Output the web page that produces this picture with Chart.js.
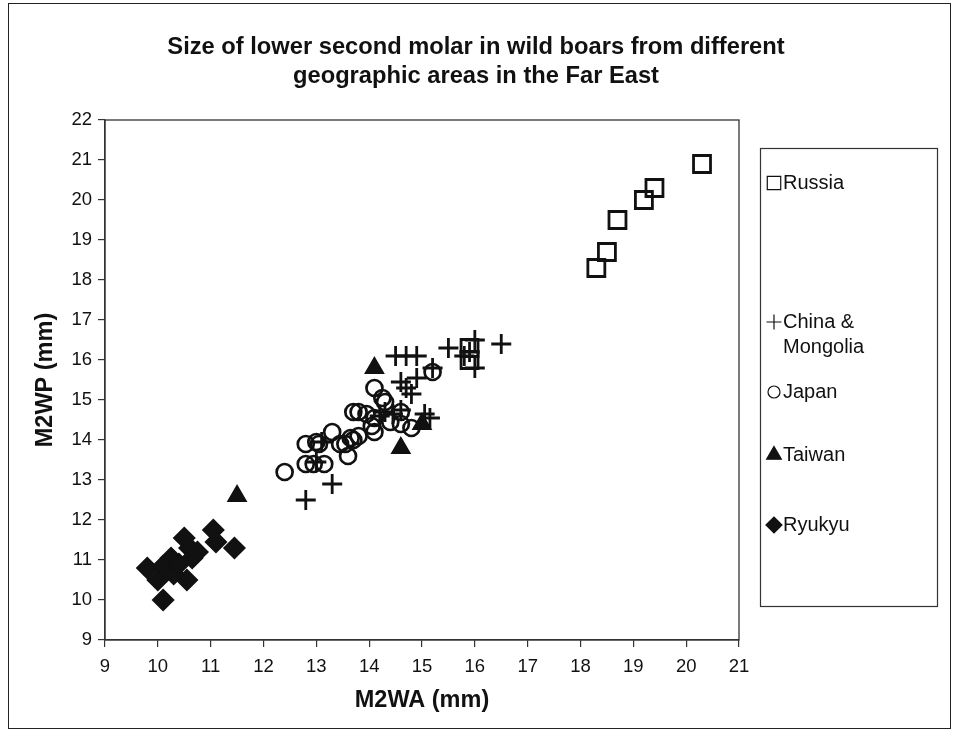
<!DOCTYPE html>
<html>
<head>
<meta charset="utf-8">
<script src="https://cdn.jsdelivr.net/npm/chart.js@4/dist/chart.umd.min.js"></script>
<style>
  html, body { margin: 0; padding: 0; background: #fff; }
  #wrap { width: 954px; height: 734px; position: relative; }
</style>
</head>
<body>
<div id="wrap"><canvas id="scatter" width="954" height="734"></canvas></div>
<script>
// series names as in the legend
const seriesNames = ["Russia", "China & Mongolia", "Japan", "Taiwan", "Ryukyu"];

// M2WA (x) / M2WP (y)
const russiaX = [15.9, 15.9, 18.3, 18.5, 18.7, 19.2, 19.4, 20.3];
const russiaY = [16.3, 16.0, 18.3, 18.7, 19.5, 20.0, 20.3, 20.9];

const chinaX = [12.8, 13.3, 14.5, 14.7, 14.9, 14.6, 14.7, 14.8, 14.9, 15.2, 15.5, 15.8, 16.0, 16.5, 16.0, 15.9,
                15.05, 15.15, 14.3, 14.45, 14.6, 14.2, 13.0, 13.1];
const chinaY = [12.5, 12.9, 16.1, 16.1, 16.1, 15.45, 15.3, 15.15, 15.55, 15.8, 16.3, 16.1, 16.5, 16.4, 15.8, 16.2,
                14.65, 14.55, 14.7, 14.65, 14.75, 14.6, 13.45, 13.95];

const japanX = [12.4, 12.8, 12.8, 13.0, 12.95, 13.15, 13.05, 13.3, 13.45, 13.55, 13.6, 13.7, 13.8, 13.65,
                13.8, 13.7, 13.95, 14.1, 14.1, 14.25, 14.3, 14.05, 14.4, 14.6, 14.6, 14.8, 15.2, 14.1];
const japanY = [13.2, 13.9, 13.4, 13.95, 13.4, 13.4, 13.9, 14.2, 13.9, 13.9, 13.6, 14.0, 14.1, 14.05,
                14.7, 14.7, 14.65, 15.3, 14.55, 15.05, 14.95, 14.35, 14.45, 14.4, 14.7, 14.3, 15.7, 14.2];

const taiwanX = [11.5, 14.1, 14.6, 15.0];
const taiwanY = [12.6, 15.8, 13.8, 14.4];

const ryukyuX = [9.8, 10.1, 10.0, 10.25, 10.1, 10.5, 10.6, 10.75, 10.55, 10.3, 11.05, 11.1, 11.45, 10.4, 10.65];
const ryukyuY = [10.8, 10.0, 10.5, 11.05, 10.85, 11.55, 11.3, 11.2, 10.5, 10.65, 11.75, 11.45, 11.3, 10.9, 11.05];

// axis ranges / tick labels
const xTicks = [9, 10, 11, 12, 13, 14, 15, 16, 17, 18, 19, 20, 21];
const yTicks = [9, 10, 11, 12, 13, 14, 15, 16, 17, 18, 19, 20, 21, 22];

const titleLines = ["Size of lower second molar in wild boars from different",
                    "geographic areas in the Far East"];

const ink = "#111";
const font = "'Liberation Sans', Arial, sans-serif";
const pts = (xs, ys) => xs.map((x, i) => ({ x: x, y: ys[i] }));

// marker look per series (chart size, then legend size)
const markers = [
  { pointStyle: "rect",     radius: 12,  legendR: 9.5, borderWidth: 2.8, backgroundColor: "rgba(0,0,0,0)" },
  { pointStyle: "cross",    radius: 10,  legendR: 7.5, borderWidth: 2.8, backgroundColor: "rgba(0,0,0,0)" },
  { pointStyle: "circle",   radius: 8,   legendR: 6,   borderWidth: 2.7, backgroundColor: "rgba(0,0,0,0)" },
  { pointStyle: "triangle", radius: 10.5, legendR: 8.5, borderWidth: 1.5, backgroundColor: ink },
  { pointStyle: "rectRot",  radius: 10.5, legendR: 8,  borderWidth: 1.5, backgroundColor: ink },
];

const allData = [pts(russiaX, russiaY), pts(chinaX, chinaY), pts(japanX, japanY),
                 pts(taiwanX, taiwanY), pts(ryukyuX, ryukyuY)];

// frame, title, plot box and boxed legend
const decor = {
  id: "decor",
  beforeDraw(chart) {
    const ctx = chart.ctx;
    ctx.save();
    ctx.fillStyle = "#fff";
    ctx.fillRect(0, 0, chart.width, chart.height);
    ctx.strokeStyle = "#222";
    ctx.lineWidth = 1;
    ctx.strokeRect(8.5, 3.5, 942, 725);
    ctx.restore();
  },
  afterDraw(chart) {
    const ctx = chart.ctx;
    const a = chart.chartArea;
    ctx.save();
    ctx.strokeStyle = "#333";
    ctx.lineWidth = 1.3;
    ctx.strokeRect(a.left, a.top, a.right - a.left, a.bottom - a.top);

    ctx.fillStyle = ink;
    ctx.textAlign = "center";
    ctx.textBaseline = "middle";
    ctx.font = "bold 23.7px " + font;
    ctx.fillText(titleLines[0], 476, 47);
    ctx.fillText(titleLines[1], 476, 76);

    // legend box
    ctx.strokeStyle = "#333";
    ctx.lineWidth = 1.2;
    ctx.strokeRect(760.5, 148.5, 177, 458);
    const rows = [183, 322, 392, 455, 525];
    ctx.font = "20px " + font;
    ctx.textAlign = "left";
    chart.data.datasets.forEach((ds, i) => {
      const m = markers[i];
      ctx.strokeStyle = ink;
      ctx.fillStyle = m.backgroundColor;
      Chart.helpers.drawPoint(ctx, {
        pointStyle: m.pointStyle,
        radius: m.legendR,
        borderWidth: 2.4,
        rotation: 0
      }, 774, rows[i]);
      ctx.fillStyle = ink;
      const words = ds.label === "China & Mongolia" ? ["China &", "Mongolia"] : [ds.label];
      words.forEach((w, k) => ctx.fillText(w, 783, rows[i] + k * 25));
    });
    ctx.restore();
  }
};

new Chart(document.getElementById("scatter").getContext("2d"), {
  type: "scatter",
  data: {
    datasets: seriesNames.map((name, i) => ({
      label: name,
      data: allData[i],
      pointStyle: markers[i].pointStyle,
      pointRadius: markers[i].radius,
      pointHoverRadius: markers[i].radius,
      pointBorderWidth: markers[i].borderWidth,
      pointBorderColor: ink,
      pointBackgroundColor: markers[i].backgroundColor,
    })),
  },
  options: {
    responsive: false,
    animation: false,
    layout: { padding: { left: 28, top: 120, right: 215, bottom: 16 } },
    plugins: {
      legend: { display: false },
      tooltip: { enabled: false },
      title: { display: false },
    },
    scales: {
      x: {
        type: "linear",
        min: xTicks[0],
        max: xTicks[xTicks.length - 1],
        afterBuildTicks: s => { s.ticks = xTicks.map(v => ({ value: v })); },
        afterFit: s => { s.height = 78; },
        grid: { drawOnChartArea: false, tickLength: 7, color: "#333", lineWidth: 1.2 },
        border: { color: "#333", width: 1.3 },
        ticks: { color: ink, padding: 9, font: { size: 18.5, family: font } },
        title: {
          display: true, text: "M2WA (mm)", color: ink,
          padding: { top: 2, bottom: 3 },
          font: { size: 23.5, weight: "bold", family: font },
        },
      },
      y: {
        type: "linear",
        min: yTicks[0],
        max: yTicks[yTicks.length - 1],
        afterBuildTicks: s => { s.ticks = yTicks.map(v => ({ value: v })); },
        afterFit: s => { s.width = 77; },
        grid: { drawOnChartArea: false, tickLength: 7, color: "#333", lineWidth: 1.2 },
        border: { color: "#333", width: 1.3 },
        ticks: { color: ink, padding: 6, font: { size: 18.5, family: font } },
        title: {
          display: true, text: "M2WP (mm)", color: ink,
          padding: { top: 3, bottom: 2 },
          font: { size: 23.5, weight: "bold", family: font },
        },
      },
    },
  },
  plugins: [decor],
});
</script>
</body>
</html>
